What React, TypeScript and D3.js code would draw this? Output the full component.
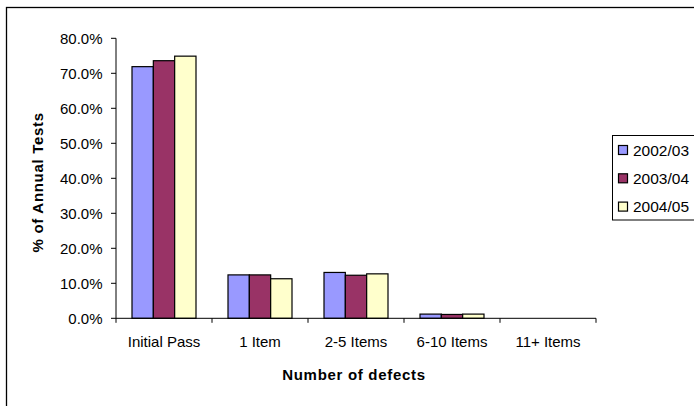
import React from "react";
import * as d3 from "d3";

const categories = ["Initial Pass", "1 Item", "2-5 Items", "6-10 Items", "11+ Items"];
const seriesNames = ["2002/03", "2003/04", "2004/05"];
const values2002 = [71.9, 12.4, 13.1, 1.2, 0];
const values2003 = [73.6, 12.4, 12.3, 1.1, 0];
const values2004 = [74.9, 11.3, 12.7, 1.2, 0];
const seriesColors = ["#9999FF", "#993366", "#FFFFCC"];
const yTicks = [0, 10, 20, 30, 40, 50, 60, 70, 80];

const W = 694;
const H = 406;
const FONT = "'Liberation Sans', Arial, sans-serif";

export default function App() {
  const seriesValues = [values2002, values2003, values2004];
  const plot = { left: 116, right: 596, top: 38.3, bottom: 318.3 };

  const x = d3.scaleBand<string>().domain(categories).range([plot.left, plot.right]).padding(0);
  const y = d3.scaleLinear().domain([0, 80]).range([plot.bottom, plot.top]);

  // gap width 150%: three bars plus 1.5 bar widths of spacing per category
  const barW = x.step() / (seriesNames.length + 1.5);
  const groupOffset = 0.75 * barW;

  const fmt = (v: number) => v.toFixed(1) + "%";

  return (
    <svg
      width={W}
      height={H}
      style={{ position: "absolute", left: 0, top: 0, background: "#fff" }}
      fontFamily={FONT}
    >
      <rect x={6.5} y={7.5} width={W + 10} height={H + 10} fill="#fff" stroke="#000" strokeWidth={1.3} />

      {/* bars */}
      {seriesValues.map((vals, si) =>
        vals.map((v, ci) => {
          if (v <= 0) return null;
          const x0 = (x(categories[ci]) as number) + groupOffset + si * barW;
          return (
            <rect
              key={`${si}-${ci}`}
              x={x0}
              y={y(v)}
              width={barW}
              height={y(0) - y(v)}
              fill={seriesColors[si]}
              stroke="#000"
              strokeWidth={1.2}
            />
          );
        })
      )}

      {/* y axis */}
      <line x1={plot.left} x2={plot.left} y1={plot.top} y2={plot.bottom} stroke="#000" strokeWidth={1} />
      {yTicks.map((t) => (
        <g key={t}>
          <line x1={plot.left - 5} x2={plot.left} y1={y(t)} y2={y(t)} stroke="#000" />
          <text x={102.5} y={y(t)} dy="0.36em" textAnchor="end" fontSize={15} fill="#000">
            {fmt(t)}
          </text>
        </g>
      ))}

      {/* x axis */}
      <line x1={plot.left} x2={plot.right} y1={plot.bottom} y2={plot.bottom} stroke="#000" strokeWidth={1} />
      {[...categories.map((c) => x(c) as number), plot.right].map((px, i) => (
        <line key={i} x1={px} x2={px} y1={plot.bottom} y2={plot.bottom + 4.5} stroke="#000" />
      ))}
      {categories.map((c) => (
        <text
          key={c}
          x={(x(c) as number) + x.bandwidth() / 2}
          y={347}
          textAnchor="middle"
          fontSize={15}
          fill="#000"
        >
          {c}
        </text>
      ))}

      {/* axis titles */}
      <text
        x={(plot.left + plot.right) / 2 - 2}
        y={379.5}
        textAnchor="middle"
        fontSize={15}
        fontWeight="bold"
        letterSpacing={0.7}
        fill="#000"
      >
        Number of defects
      </text>
      <text
        transform={`translate(42.5, ${(plot.top + plot.bottom) / 2 + 4}) rotate(-90)`}
        textAnchor="middle"
        fontSize={15}
        fontWeight="bold"
        letterSpacing={0.7}
        fill="#000"
      >
        % of Annual Tests
      </text>

      {/* legend */}
      <rect x={612.5} y={135.5} width={100} height={84.5} fill="#fff" stroke="#000" strokeWidth={1} />
      {seriesNames.map((name, i) => {
        const cy = 150 + i * 28.3;
        return (
          <g key={name}>
            <rect x={618.5} y={cy - 4.5} width={9} height={9} fill={seriesColors[i]} stroke="#000" strokeWidth={1.2} />
            <text x={633} y={cy} dy="0.36em" fontSize={15.5} fill="#000">
              {name}
            </text>
          </g>
        );
      })}
    </svg>
  );
}
